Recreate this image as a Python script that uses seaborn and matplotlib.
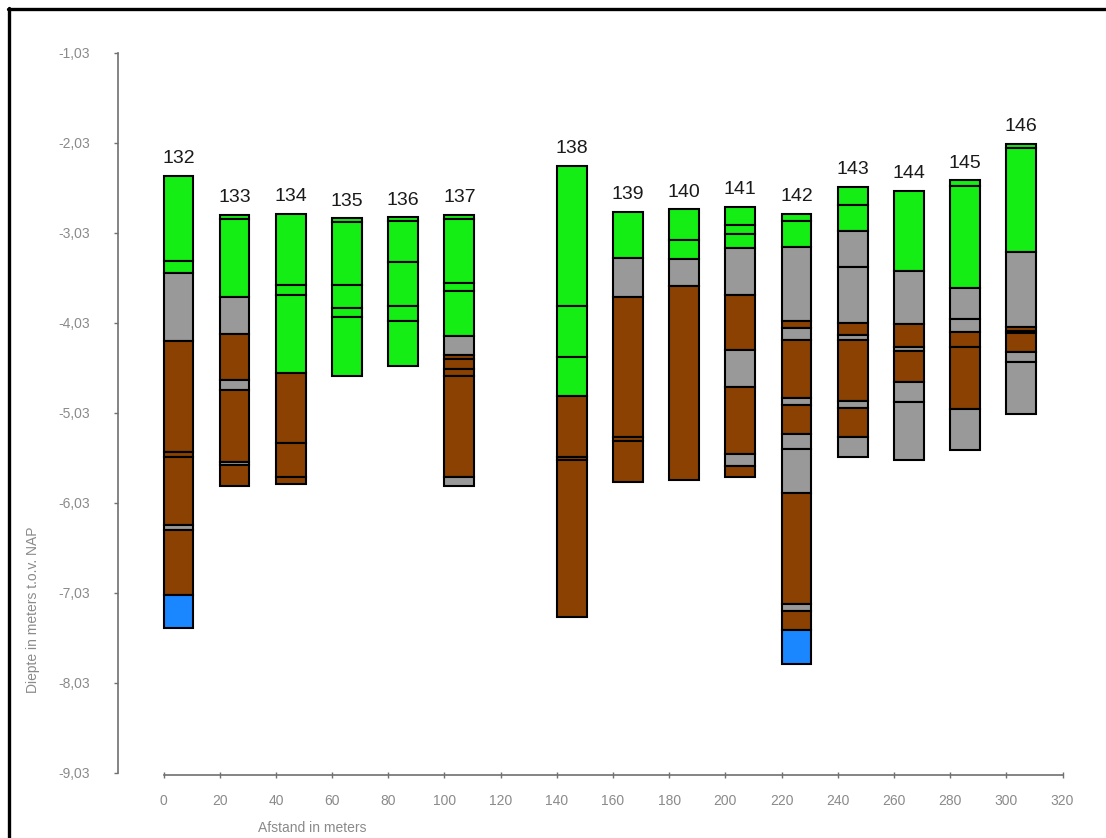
import matplotlib
matplotlib.use("Agg")
import matplotlib.pyplot as plt
import seaborn as sns
from matplotlib.lines import Line2D

# Boring numbers and their positions along the section (m)
boringen = [132, 133, 134, 135, 136, 137, 138, 139, 140, 141, 142, 143, 144, 145, 146]
afstand = [0, 20, 40, 60, 80, 100, 140, 160, 180, 200, 220, 240, 260, 280, 300]

# Layer boundaries (m t.o.v. NAP), top to bottom
grenzen = {
    132: [-2.40, -3.34, -3.48, -4.23, -5.47, -5.52, -6.28, -6.33, -7.06, -7.42],
    133: [-2.83, -2.88, -3.74, -4.16, -4.67, -4.78, -5.58, -5.61, -5.84],
    134: [-2.82, -3.61, -3.72, -4.59, -5.37, -5.75, -5.82],
    135: [-2.87, -2.91, -3.61, -3.87, -3.97, -4.62],
    136: [-2.86, -2.90, -3.36, -3.85, -4.01, -4.51],
    137: [-2.83, -2.88, -3.59, -3.68, -4.18, -4.39, -4.43, -4.54, -4.62, -5.75, -5.84],
    138: [-2.29, -3.85, -4.41, -4.85, -5.52, -5.56, -7.30],
    139: [-2.80, -3.31, -3.75, -5.30, -5.34, -5.80],
    140: [-2.77, -3.11, -3.32, -3.62, -5.78],
    141: [-2.74, -2.94, -3.04, -3.20, -3.72, -4.33, -4.74, -5.49, -5.62, -5.74],
    142: [-2.82, -2.90, -3.19, -4.01, -4.09, -4.22, -4.87, -4.95, -5.27, -5.43, -5.92,
          -7.15, -7.23, -7.44, -7.82],
    143: [-2.52, -2.72, -3.01, -3.41, -4.03, -4.17, -4.22, -4.90, -4.98, -5.30, -5.52],
    144: [-2.565, -3.46, -4.05, -4.30, -4.35, -4.69, -4.91, -5.56],
    145: [-2.45, -2.51, -3.65, -3.99, -4.13, -4.30, -4.99, -5.45],
    146: [-2.04, -2.09, -3.24, -4.08, -4.12, -4.15, -4.36, -4.47, -5.04],
}

# Soil type per layer: z = green, k = grey, v = brown, b = blue
lagen = {
    132: "zzkvvvkvb",
    133: "zzkvkvkv",
    134: "zzzvvv",
    135: "zzzzz",
    136: "zzzzz",
    137: "zzzzkvvvvk",
    138: "zzzvvv",
    139: "zkvvv",
    140: "zzkv",
    141: "zzzkvkvkv",
    142: "zzkvkvkvkkvkvb",
    143: "zzkkvkvkvk",
    144: "zkvkvkk",
    145: "zzkkvvk",
    146: "zzkvkvkk",
}

y_ticks = [-1.03, -2.03, -3.03, -4.03, -5.03, -6.03, -7.03, -8.03, -9.03]
x_ticks = list(range(0, 321, 20))

kleuren = {"z": "#14ee14", "k": "#999999", "v": "#8a4102", "b": "#1a86ff"}

sns.set_theme(style="white")
plt.rcParams['font.family'] = ['Liberation Sans', 'DejaVu Sans']

fig = plt.figure(figsize=(11.06, 8.38), dpi=100)
ax = fig.add_axes([118 / 1106, 1 - 775 / 838, 962 / 1106, 735 / 838])

breedte = 10.6
for nr, x in zip(boringen, afstand):
    g = grenzen[nr]
    for i, soort in enumerate(lagen[nr]):
        top, bodem = g[i], g[i + 1]
        ax.bar(x, top - bodem, bottom=bodem, width=breedte, align="edge",
               color=kleuren[soort], edgecolor="black", linewidth=1.5)
    ax.text(x + breedte / 2, g[0] + 0.19, str(nr), ha="center", va="center",
            fontsize=14, color="#1a1a1a")

ax.set_xlim(-16.2, 326.2)
ax.set_ylim(-9.055, -0.89)

ax.set_yticks(y_ticks)
ax.set_yticklabels([f"{v:.2f}".replace(".", ",") for v in y_ticks])
ax.set_xticks(x_ticks)
ax.set_xticklabels([str(v) for v in x_ticks])

for side in ["top", "right"]:
    ax.spines[side].set_visible(False)
ax.spines["left"].set_bounds(-9.03, -1.03)
ax.spines["bottom"].set_bounds(0, 320)
ax.spines["bottom"].set_position(("data", -9.055))
for side in ["left", "bottom"]:
    ax.spines[side].set_color("#707070")
    ax.spines[side].set_linewidth(1.2)

ax.tick_params(axis="y", direction="out", length=3, width=1, color="#707070",
               pad=17, labelsize=10, labelcolor="#8a8a8a", left=True)
ax.tick_params(axis="x", direction="inout", length=5, width=1, color="#707070",
               pad=11, labelsize=10, labelcolor="#8a8a8a", bottom=True)

fig.text(33 / 1106, 1 - 610 / 838, "Diepte in meters t.o.v. NAP", rotation=90,
         ha="center", va="center", fontsize=10, color="#8a8a8a")
fig.text(312 / 1106, 1 - 828 / 838, "Afstand in meters", ha="center", va="center",
         fontsize=10, color="#8a8a8a")

# frame lines at top and left edge
fig.add_artist(Line2D([8 / 1106, 1], [1 - 9 / 838, 1 - 9 / 838], color="black",
                      linewidth=2.4, transform=fig.transFigure))
fig.add_artist(Line2D([9 / 1106, 9 / 1106], [0, 1 - 8 / 838], color="black",
                      linewidth=2.4, transform=fig.transFigure))

fig.savefig("out.png", dpi=100)
